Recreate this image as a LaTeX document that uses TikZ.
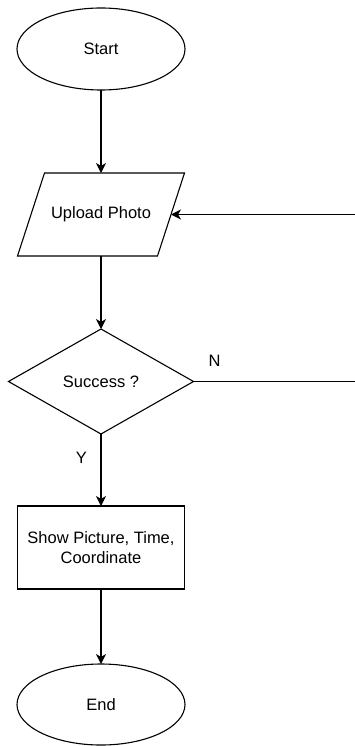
\documentclass[tikz,border=0pt]{standalone}
\usepackage{fontspec}
\setmainfont{Liberation Sans}
\usepackage{tikz}
\usetikzlibrary{shapes.geometric,arrows.meta,positioning,calc}

\begin{document}
\begin{tikzpicture}[
    font=\fontsize{16.5}{20}\selectfont,
    every node/.style={outer sep=0pt},
    term/.style={draw, ellipse, line width=1.1pt, minimum width=168pt,
                 minimum height=82pt, align=center},
    io/.style={rectangle, minimum width=140pt, minimum height=83pt, align=center},
    decide/.style={draw, diamond, line width=1.1pt, minimum width=185pt,
                   minimum height=105pt, align=center},
    proc/.style={draw, rectangle, line width=1.1pt, minimum width=167pt,
                 minimum height=83pt, align=center},
    lbl/.style={inner sep=0pt},
    arr/.style={-{Stealth[length=10pt,width=10pt,inset=3pt]}, line width=1.1pt}
]
    \useasboundingbox (0,0) rectangle (355pt,-746pt);

    % Start
    \node[term] (start) at (101pt,-49pt) {Start};

    % Upload (parallelogram drawn round the node)
    \node[io, below=83pt of start] (upload) {Upload Photo};
    \draw[line width=1.1pt] ([xshift=13.5pt]upload.north west) -- ([xshift=13.5pt]upload.north east)
        -- ([xshift=-13.5pt]upload.south east) -- ([xshift=-13.5pt]upload.south west) -- cycle;

    % Decision
    \node[decide, below=73pt of upload] (check) {Success ?};

    % Show result
    \node[proc, below=72pt of check] (show) {Show Picture, Time,\\Coordinate};

    % End
    \node[term, minimum height=81pt, below=75pt of show] (stop) {End};

    % Loop back
    \coordinate (nout) at ($(check.east)+(162pt,0)$);
    \coordinate (nin) at (upload.east -| nout);

    % Arrows
    \draw[arr] (start.south) -- (upload.north);
    \draw[arr] (upload.south) -- (check.north);
    \draw[arr] (check.south) -- (show.north)
        node[lbl, pos=0.33, left=14pt] {Y};
    \draw[arr] (show.south) -- (stop.north);
    \draw[line width=1.1pt] (check.east) -- (nout)
        node[lbl, pos=0.13, above=15pt] {N};
    \draw[arr] (nin) -- (upload.east);
\end{tikzpicture}
\end{document}
